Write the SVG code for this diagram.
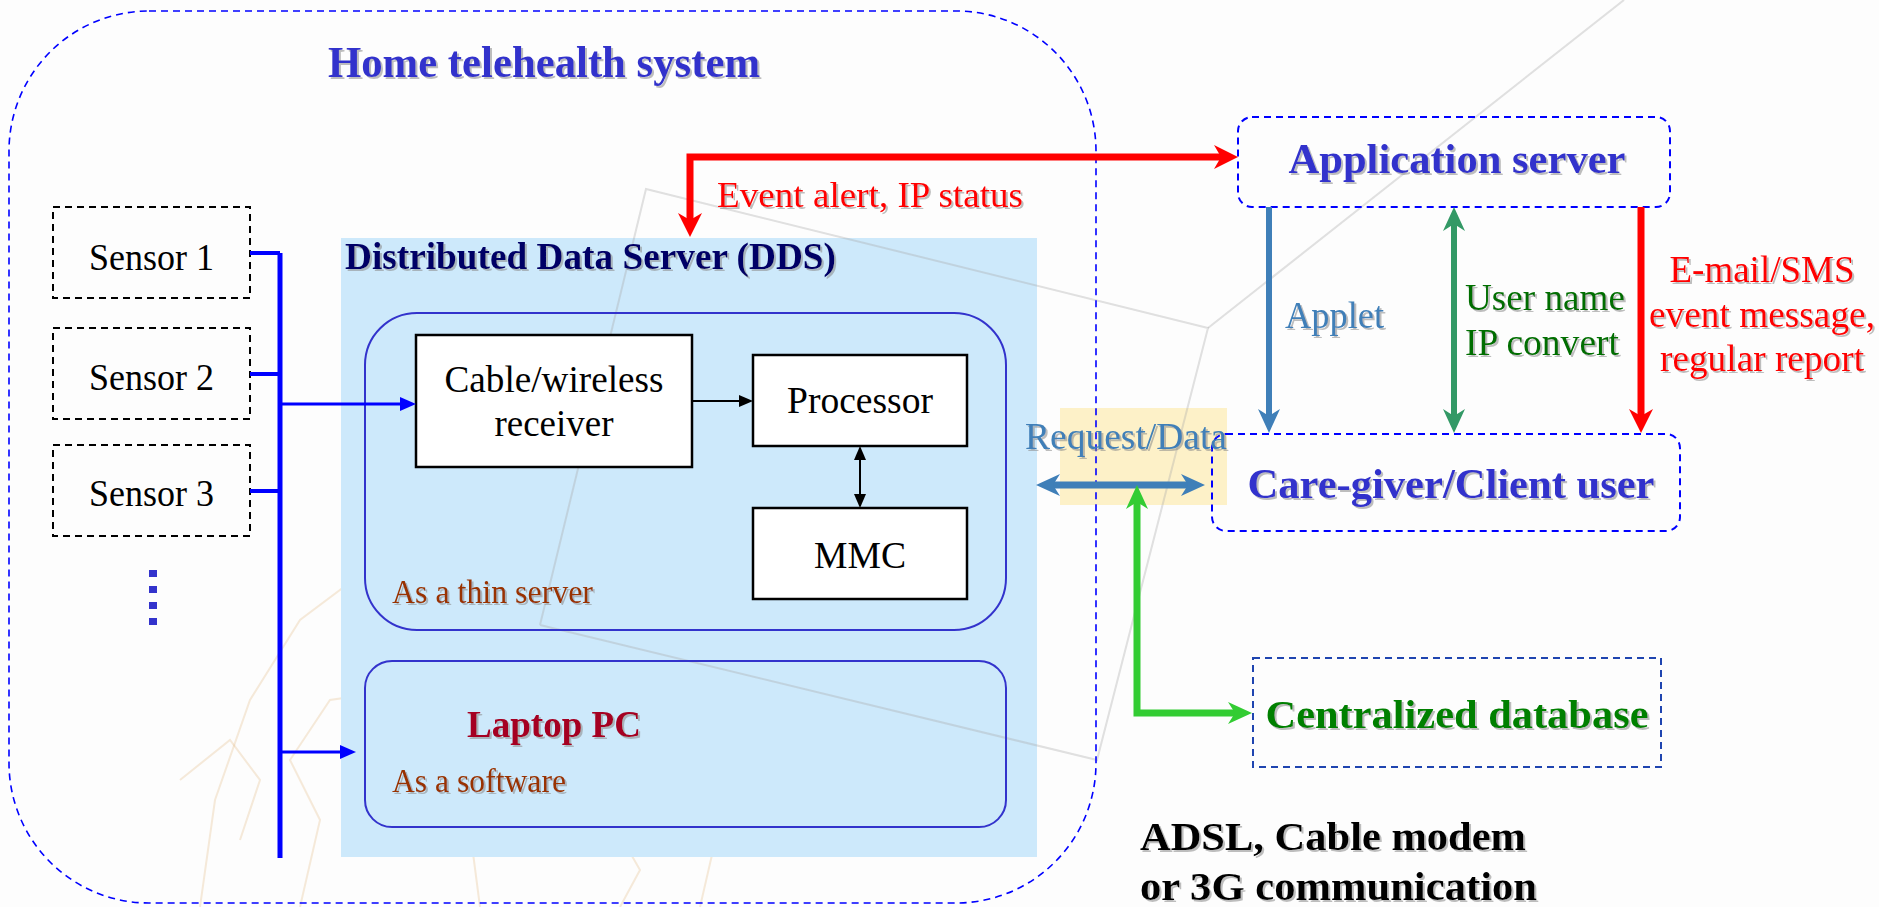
<svg xmlns="http://www.w3.org/2000/svg" width="1879" height="907" viewBox="0 0 1879 907">
<defs>
<style>
text{font-family:"Liberation Serif","Times New Roman",serif;}
.b{font-weight:bold;}
.sh{filter:url(#shadow);}
.sensor{fill:none;stroke:#000;stroke-width:2;stroke-dasharray:7 5;}
.box{fill:#fff;stroke:#000;stroke-width:2.5;}
.round{fill:none;stroke:#3333cc;stroke-width:2;}
.dash{fill:none;stroke:#0000ff;stroke-width:2;stroke-dasharray:7 5;}
.wm{fill:none;stroke:#a8a8a8;stroke-width:2;opacity:0.35;}
.lion{fill:none;stroke:#e0b070;stroke-width:2;opacity:0.25;}
.lbl{font-size:38px;fill:#000;text-anchor:middle;}
</style>
<filter id="shadow" x="-5%" y="-20%" width="110%" height="150%">
<feDropShadow dx="2" dy="2" stdDeviation="0.6" flood-color="#888" flood-opacity="0.55"/>
</filter>
<marker id="aRed" markerUnits="userSpaceOnUse" viewBox="0 0 24 24" markerWidth="24" markerHeight="24" refX="10" refY="12" orient="auto-start-reverse"><path d="M0,0 L24,12 L0,24 L7,12 z" fill="#ff0000"/></marker>
<marker id="aSteel" markerUnits="userSpaceOnUse" viewBox="0 0 24 24" markerWidth="24" markerHeight="24" refX="10" refY="12" orient="auto-start-reverse"><path d="M0,1 L24,12 L0,23 L7,12 z" fill="#3f7fb8"/></marker>
<marker id="aTeal" markerUnits="userSpaceOnUse" viewBox="0 0 24 24" markerWidth="24" markerHeight="24" refX="10" refY="12" orient="auto-start-reverse"><path d="M0,1 L24,12 L0,23 L7,12 z" fill="#339966"/></marker>
<marker id="aLime" markerUnits="userSpaceOnUse" viewBox="0 0 24 24" markerWidth="24" markerHeight="24" refX="10" refY="12" orient="auto-start-reverse"><path d="M0,1 L24,12 L0,23 L7,12 z" fill="#33cc33"/></marker>
<marker id="aBlack" markerUnits="userSpaceOnUse" viewBox="0 0 14 14" markerWidth="14" markerHeight="14" refX="2" refY="7" orient="auto-start-reverse"><path d="M0,1 L14,7 L0,13 z" fill="#000"/></marker>
<marker id="aBlue" markerUnits="userSpaceOnUse" viewBox="0 0 16 16" markerWidth="16" markerHeight="16" refX="2" refY="8" orient="auto-start-reverse"><path d="M0,1 L16,8 L0,15 z" fill="#0000ff"/></marker>
</defs>

<rect x="0" y="0" width="1879" height="907" fill="#fdfdfd"/>

<g id="background-sketch">
<polyline class="lion" points="200,907 215,800 250,700 300,620 380,560 470,540 560,560"/>
<polyline class="lion" points="300,907 320,820 290,760 330,700 400,690 430,740"/>
<polyline class="lion" points="480,907 470,830 520,780 600,800 640,870 620,907"/>
<polyline class="lion" points="620,560 700,520 800,540 880,600 900,680 860,720"/>
<polyline class="lion" points="700,907 720,820 780,780 840,800"/>
<polyline class="lion" points="180,780 230,740 260,780 240,840"/>
</g>

<g id="highlight"><rect x="1060" y="408" width="167" height="97" fill="#fdf1c8"/></g>

<g id="dds">
<rect x="341" y="238" width="696" height="619" fill="#cde9fb"/>
</g>

<g id="watermark">
<polyline class="wm" points="540,625 646,189 1208,328 1097,760 540,625"/>
<line class="wm" x1="1208" y1="328" x2="1624" y2="0"/>
</g>

<g id="home-system">
<rect x="9" y="11" width="1087" height="892" rx="140" ry="140" fill="none" stroke="#0000ff" stroke-width="1.6" stroke-dasharray="7 5"/>
<text x="328" y="77" class="b sh" font-size="44" fill="#3333cc" textLength="432" lengthAdjust="spacingAndGlyphs">Home telehealth system</text>
</g>

<text x="345" y="269" class="b sh" font-size="38" fill="#000066" textLength="491" lengthAdjust="spacingAndGlyphs">Distributed Data Server (DDS)</text>

<g id="sensor1"><rect class="sensor" x="53" y="207" width="197" height="91"/><text class="lbl" x="151.5" y="270" textLength="125" lengthAdjust="spacingAndGlyphs">Sensor 1</text></g>
<g id="sensor2"><rect class="sensor" x="53" y="328" width="197" height="91"/><text class="lbl" x="151.5" y="390" textLength="125" lengthAdjust="spacingAndGlyphs">Sensor 2</text></g>
<g id="sensor3"><rect class="sensor" x="53" y="445" width="197" height="91"/><text class="lbl" x="151.5" y="506" textLength="125" lengthAdjust="spacingAndGlyphs">Sensor 3</text></g>
<g id="sensor-more"><line x1="153" y1="570" x2="153" y2="626" stroke="#3333cc" stroke-width="8" stroke-dasharray="7 9"/></g>

<g id="thin-server">
<rect class="round" x="365" y="313" width="641" height="317" rx="52" ry="52"/>
<text x="392" y="603" font-size="33" fill="#993300" class="sh" textLength="201" lengthAdjust="spacingAndGlyphs">As a thin server</text>
</g>
<g id="receiver"><rect class="box" x="416" y="335" width="276" height="132"/><text class="lbl" x="554" y="392" textLength="219" lengthAdjust="spacingAndGlyphs">Cable/wireless</text><text class="lbl" x="554" y="436" textLength="119" lengthAdjust="spacingAndGlyphs">receiver</text></g>
<g id="processor"><rect class="box" x="753" y="355" width="214" height="91"/><text class="lbl" x="860" y="413" textLength="146" lengthAdjust="spacingAndGlyphs">Processor</text></g>
<g id="mmc"><rect class="box" x="753" y="508" width="214" height="91"/><text class="lbl" x="860" y="568" textLength="92" lengthAdjust="spacingAndGlyphs">MMC</text></g>

<g id="laptop">
<rect class="round" x="365" y="661" width="641" height="166" rx="27" ry="27"/>
<text x="467" y="737" class="b sh" font-size="38" fill="#a50021" textLength="174" lengthAdjust="spacingAndGlyphs">Laptop PC</text>
<text x="392" y="792" font-size="33" fill="#993300" class="sh" textLength="174" lengthAdjust="spacingAndGlyphs">As a software</text>
</g>

<g id="app-server"><rect class="dash" x="1238" y="117" width="432" height="90" rx="14" ry="14"/><text x="1457" y="173" class="b sh" font-size="43" fill="#3333cc" text-anchor="middle" textLength="337" lengthAdjust="spacingAndGlyphs">Application server</text></g>
<g id="client"><rect class="dash" x="1212" y="434" width="468" height="97" rx="14" ry="14"/><text x="1451" y="498" class="b sh" font-size="43" fill="#3333cc" text-anchor="middle" textLength="407" lengthAdjust="spacingAndGlyphs">Care-giver/Client user</text></g>
<g id="database"><rect x="1253" y="658" width="408" height="109" fill="none" stroke="#1f45b0" stroke-width="2" stroke-dasharray="7 5"/><text x="1457" y="728" class="b sh" font-size="41" fill="#008000" text-anchor="middle" textLength="383" lengthAdjust="spacingAndGlyphs">Centralized database</text></g>

<g id="connectors" fill="none">
<path d="M280,253 L280,858" stroke="#0000ff" stroke-width="5"/>
<path d="M250,253 L280,253 M250,374 L280,374 M250,491 L280,491" stroke="#0000ff" stroke-width="4"/>
<path d="M282,404 L402,404" stroke="#0000ff" stroke-width="3" marker-end="url(#aBlue)"/>
<path d="M282,752 L342,752" stroke="#0000ff" stroke-width="3" marker-end="url(#aBlue)"/>
<path d="M692,401 L741,401" stroke="#000" stroke-width="2" marker-end="url(#aBlack)"/>
<path d="M860,458 L860,496" stroke="#000" stroke-width="2" marker-start="url(#aBlack)" marker-end="url(#aBlack)"/>
<path d="M690,223 L690,157 L1224,157" stroke="#ff0000" stroke-width="7" marker-start="url(#aRed)" marker-end="url(#aRed)"/>
<path d="M1269,207 L1269,419" stroke="#3f7fb8" stroke-width="6" marker-end="url(#aSteel)"/>
<path d="M1454,221 L1454,419" stroke="#339966" stroke-width="6" marker-start="url(#aTeal)" marker-end="url(#aTeal)"/>
<path d="M1641,207 L1641,419" stroke="#ff0000" stroke-width="7" marker-end="url(#aRed)"/>
<path d="M1050,485 L1191,485" stroke="#3f7fb8" stroke-width="7" marker-start="url(#aSteel)" marker-end="url(#aSteel)"/>
<path d="M1137,499 L1137,713 L1238,713" stroke="#33cc33" stroke-width="7" marker-start="url(#aLime)" marker-end="url(#aLime)"/>
</g>

<g id="labels">
<text x="717" y="207" font-size="35" fill="#ff0000" class="sh" textLength="306" lengthAdjust="spacingAndGlyphs">Event alert, IP status</text>
<text x="1285" y="328" font-size="37" fill="#3f7fb8" class="sh" textLength="99" lengthAdjust="spacingAndGlyphs">Applet</text>
<text x="1465" y="310" font-size="38" fill="#006e00" class="sh" textLength="160" lengthAdjust="spacingAndGlyphs">User name</text>
<text x="1465" y="355" font-size="38" fill="#006e00" class="sh" textLength="154" lengthAdjust="spacingAndGlyphs">IP convert</text>
<text x="1762" y="282" font-size="38" fill="#ff0000" text-anchor="middle" class="sh" textLength="185" lengthAdjust="spacingAndGlyphs">E-mail/SMS</text>
<text x="1762" y="327" font-size="38" fill="#ff0000" text-anchor="middle" class="sh" textLength="226" lengthAdjust="spacingAndGlyphs">event message,</text>
<text x="1762" y="371" font-size="38" fill="#ff0000" text-anchor="middle" class="sh" textLength="204" lengthAdjust="spacingAndGlyphs">regular report</text>
<text x="1025" y="449" font-size="38" fill="#3f7fb8" class="sh" textLength="202" lengthAdjust="spacingAndGlyphs">Request/Data</text>
<text x="1140" y="850" font-size="41" class="b sh" fill="#000" textLength="386" lengthAdjust="spacingAndGlyphs">ADSL, Cable modem</text>
<text x="1140" y="900" font-size="41" class="b sh" fill="#000" textLength="397" lengthAdjust="spacingAndGlyphs">or 3G communication</text>
</g>
</svg>
